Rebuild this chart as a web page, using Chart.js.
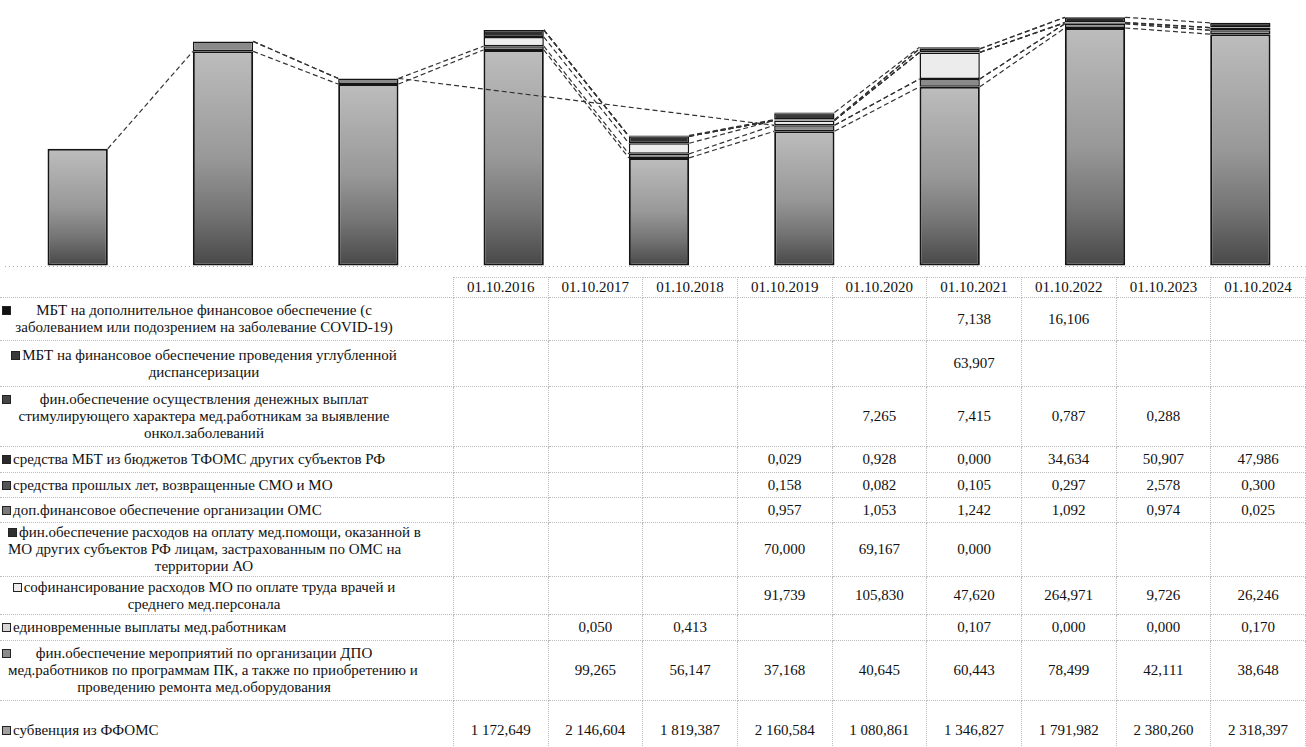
<!DOCTYPE html>
<html>
<head>
<meta charset="utf-8">
<script src="https://cdn.jsdelivr.net/npm/chart.js@4.4.0/dist/chart.umd.min.js"></script>
<style>
  html, body { margin:0; padding:0; background:#fff; overflow:hidden; width:1306px; height:747px; }
  #chartBox { position:absolute; left:5px; top:0; width:1308px; height:277px; }
  #tbl { position:absolute; left:0; top:277px; border-collapse:collapse; table-layout:fixed;
         font-family:"Liberation Serif","Times New Roman",serif; font-size:15px; color:#111; }
  #tbl td { border:1px dotted #bdbdbd; padding:0; text-align:center; vertical-align:middle; line-height:17px; white-space:nowrap; }
  #tbl td.lbl { border-left:none; text-align:left; }
  #tbl tr.head td.lbl { border-top:none; }
  .ml { position:relative; width:392px; padding-left:8px; text-align:center; }
  .ml .mk.abs { position:absolute; left:2px; top:4px; }
  .mk.inl { display:inline-block; vertical-align:0; margin-right:2px; }
  .sl { padding-left:2px; }
  .mk { width:7px; height:7px; border:1px solid #222; }
</style>
</head>
<body>
<div id="chartBox"><canvas id="c"></canvas></div>
<table id="tbl"></table>
<script>
// даты
const dates = ['01.10.2016','01.10.2017','01.10.2018','01.10.2019','01.10.2020','01.10.2021','01.10.2022','01.10.2023','01.10.2024'];

// ряды (млн руб.)
const covid    = [null, null, null, null, null, 7.138, 16.106, null, null];
const uglubl   = [null, null, null, null, null, 63.907, null, null, null];
const onkol    = [null, null, null, null, 7.265, 7.415, 0.787, 0.288, null];
const tfoms    = [null, null, null, 0.029, 0.928, 0.000, 34.634, 50.907, 47.986];
const proshlyh = [null, null, null, 0.158, 0.082, 0.105, 0.297, 2.578, 0.300];
const dopOms   = [null, null, null, 0.957, 1.053, 1.242, 1.092, 0.974, 0.025];
const finOther = [null, null, null, 70.000, 69.167, 0.000, null, null, null];
const cofin    = [null, null, null, 91.739, 105.830, 47.620, 264.971, 9.726, 26.246];
const oneTime  = [null, 0.050, 0.413, null, null, 0.107, 0.000, 0.000, 0.170];
const dpo      = [null, 99.265, 56.147, 37.168, 40.645, 60.443, 78.499, 42.111, 38.648];
const subv     = [1172.649, 2146.604, 1819.387, 2160.584, 1080.861, 1346.827, 1791.982, 2380.260, 2318.397];

// подписи строк таблицы (сверху вниз)
const rowLabels = [
  ['МБТ на дополнительное финансовое обеспечение (с', 'заболеванием или подозрением на заболевание COVID-19)'],
  ['МБТ на финансовое обеспечение проведения углубленной', 'диспансеризации'],
  ['фин.обеспечение осуществления денежных выплат', 'стимулирующего характера мед.работникам за выявление', 'онкол.заболеваний'],
  ['средства МБТ из бюджетов ТФОМС других субъектов РФ'],
  ['средства прошлых лет, возвращенные СМО и МО'],
  ['доп.финансовое обеспечение организации ОМС'],
  ['фин.обеспечение расходов на оплату мед.помощи, оказанной в', 'МО других субъектов РФ лицам, застрахованным по ОМС на', 'территории АО'],
  ['софинансирование расходов МО по оплате труда врачей и', 'среднего мед.персонала'],
  ['единовременные выплаты мед.работникам'],
  ['фин.обеспечение мероприятий по организации ДПО', 'мед.работников по программам ПК, а также по приобретению и', 'проведению ремонта мед.оборудования'],
  ['субвенция из ФФОМС']
];
const rowSeries = [covid, uglubl, onkol, tfoms, proshlyh, dopOms, finOther, cofin, oneTime, dpo, subv];
const rowColors = ['#111111', '#3a3a3a', '#454545', '#2a2a2a', '#555555', '#7a7a7a', '#303030', '#ececec', '#d6d6d6', '#8a8a8a', '#a0a0a0'];
const rowHeights = [43, 46, 60, 26, 25, 25, 54, 38, 26, 60, 47];
// маркер отдельно слева (строка начинается с отступа)
const markerApart = [true, false, true, false, false, false, false, false, false, true, false];

function fmt(v) {
  if (v === null) return '';
  let parts = v.toFixed(3).split('.');
  return parts[0].replace(/\B(?=(\d{3})+(?!\d))/g, ' ') + ',' + parts[1];
}

// таблица
let html = '<colgroup><col style="width:455px">' + dates.map(() => '<col style="width:95.5px">').join('') + '</colgroup>';
html += '<tr class="head" style="height:20px"><td class="lbl"></td>' + dates.map(d => '<td>' + d + '</td>').join('') + '</tr>';
rowLabels.forEach((lines, r) => {
  const mk = cls => '<span class="mk ' + cls + '" style="background:' + rowColors[r] + '"></span>';
  let lbl;
  if (lines.length > 1) {
    lbl = '<div class="ml">' + (markerApart[r] ? mk('abs') : mk('inl')) + lines.join('<br>') + '</div>';
  } else {
    lbl = '<div class="sl">' + mk('inl') + lines[0] + '</div>';
  }
  const pad = r === rowLabels.length - 1 ? 'padding-top:12px;' : '';
  html += '<tr style="height:' + rowHeights[r] + 'px"><td class="lbl" style="' + pad + '">' + lbl + '</td>' +
    rowSeries[r].map(v => '<td style="' + pad + '">' + fmt(v) + '</td>').join('') + '</tr>';
});
document.getElementById('tbl').innerHTML = html;

// градиент для субвенции
function subvFill(c) {
  const chart = c.chart;
  if (!chart.chartArea || c.type !== 'data' || c.raw === null) return '#999';
  const y = chart.scales.y;
  const top = y.getPixelForValue(c.raw), bot = y.getPixelForValue(0);
  const g = chart.ctx.createLinearGradient(0, top, 0, bot);
  g.addColorStop(0, '#bdbdbd');
  g.addColorStop(0.5, '#989898');
  g.addColorStop(0.75, '#757575');
  g.addColorStop(1, '#484848');
  return g;
}

// линии рядов
const seriesLines = {
  id: 'seriesLines',
  afterDatasetsDraw(chart) {
    const ctx = chart.ctx;
    ctx.save();
    ctx.strokeStyle = '#333';
    ctx.lineWidth = 1.2;
    ctx.setLineDash([5, 3]);
    chart.data.datasets.forEach((ds, di) => {
      const meta = chart.getDatasetMeta(di);
      let prev = null;
      ds.data.forEach((v, i) => {
        if (v === null) return;
        const el = meta.data[i];
        if (prev) {
          ctx.beginPath();
          ctx.moveTo(prev.x + prev.width / 2, prev.y);
          ctx.lineTo(el.x - el.width / 2, el.y);
          ctx.stroke();
        }
        prev = el;
      });
    });
    ctx.restore();
  }
};

// снизу вверх
const stackOrder = [10, 9, 8, 7, 6, 5, 4, 3, 2, 1, 0];
const datasets = stackOrder.map(r => ({
  label: rowLabels[r].join(' '),
  data: rowSeries[r],
  backgroundColor: r === 10 ? subvFill : rowColors[r],
  borderColor: '#151515',
  borderWidth: r === 10 ? 2 : 1.5,
  borderSkipped: false
}));

new Chart(document.getElementById('c').getContext('2d'), {
  type: 'bar',
  data: { labels: dates, datasets: datasets },
  options: {
    responsive: true,
    maintainAspectRatio: false,
    animation: false,
    layout: { padding: { top: 6, bottom: 11, left: 0, right: 0 } },
    datasets: { bar: { categoryPercentage: 1, barPercentage: 0.415 } },
    plugins: { legend: { display: false }, tooltip: { enabled: false } },
    scales: {
      x: { stacked: true, display: false },
      y: {
        stacked: true, min: 0, max: 2600,
        ticks: { display: false, stepSize: 500 },
        grid: {
          drawTicks: false,
          color: c => (c.tick && c.tick.value % 500 === 0) ? '#b0b0b0' : 'rgba(0,0,0,0)'
        },
        border: { display: false, dash: [1, 3] }
      }
    }
  },
  plugins: [seriesLines]
});
</script>
</body>
</html>
